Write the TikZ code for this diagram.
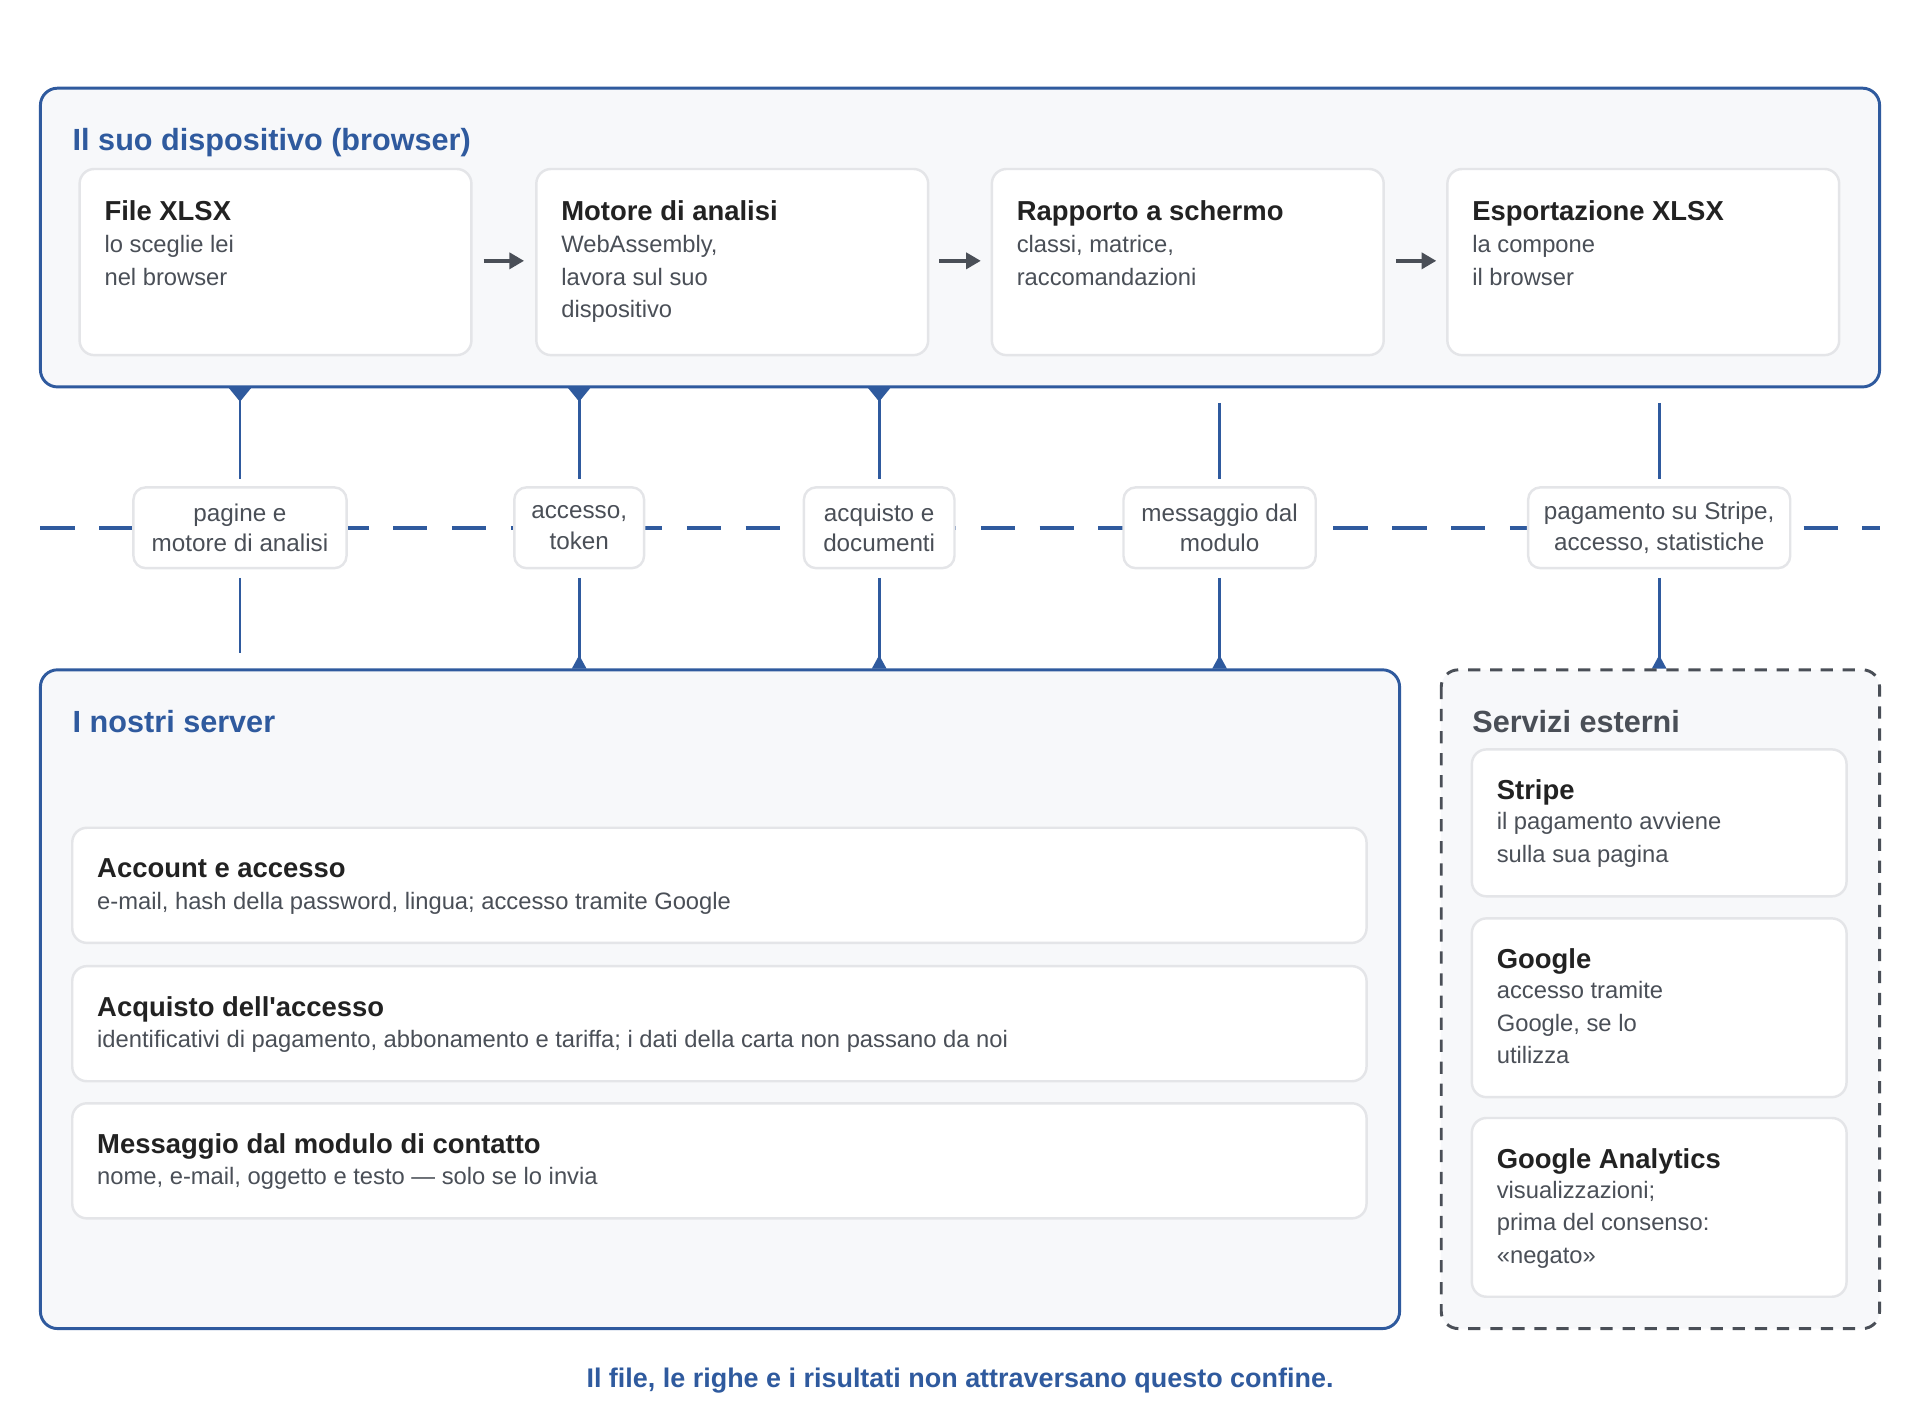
\documentclass[tikz,border=0pt]{standalone}
\usepackage{fontspec}
\usetikzlibrary{arrows.meta}
\setmainfont{Liberation Sans}
\begin{document}
\definecolor{bl}{HTML}{2F5A9E}
\definecolor{txt}{HTML}{222222}
\definecolor{sub}{HTML}{4A4F57}
\definecolor{cardl}{HTML}{E4E5E8}
\definecolor{bg}{HTML}{F7F8FA}
\definecolor{gd}{HTML}{4A4F57}
\begin{tikzpicture}[x=0.5pt,y=-0.5pt,
  outer/.style={draw=bl,line width=1.2pt,fill=bg,rounded corners=7pt},
  card/.style={draw=cardl,line width=1pt,fill=white,rounded corners=6pt},
  ttl/.style={anchor=base west,inner sep=0pt,font=\fontsize{12.5}{14}\selectfont\bfseries,text=bl},
  ct/.style={anchor=base west,inner sep=0pt,font=\fontsize{11.2}{13}\selectfont\bfseries,text=txt},
  cs/.style={anchor=north west,inner sep=0pt,align=left,font=\fontsize{9.7}{13.3}\selectfont,text=sub},
  lab/.style={draw=cardl,line width=1pt,fill=white,rounded corners=5pt,align=center,inner sep=0pt,font=\fontsize{9.9}{12.5}\selectfont,text=sub},
  vl/.style={draw=bl,line width=1.2pt},
  ar/.style={draw=gd,line width=1.5pt,-{Triangle[length=6pt,width=6.5pt]}}]
\useasboundingbox (0,0) rectangle (1568,1158);
% top
\draw[outer] (33,72) rectangle (1535,316);
\node[ttl] (t1) at (59,123) {Il suo dispositivo (browser)};
\foreach \x/\n/\a/\b in {65/c1/File XLSX/{lo sceglie lei\\nel browser},438/c2/Motore di analisi/{WebAssembly,\\lavora sul suo\\dispositivo},810/c3/Rapporto a schermo/{classi, matrice,\\raccomandazioni},1182/c4/Esportazione XLSX/{la compone\\il browser}}{
  \draw[card] (\x,138) rectangle (\x+320,290);
  \coordinate (\n) at (\x,213);
  \node[ct] (\n t) at (\x+20,180) {\a};
  \node[cs] (\n s) at (\x+20,192) {\b};
}
\coordinate (a1) at (395,213);\coordinate (b1) at (428,213);
\coordinate (a2) at (767,213);\coordinate (b2) at (801,213);
\coordinate (a3) at (1140,213);\coordinate (b3) at (1173,213);
\draw[ar] (a1)--(b1); \draw[ar] (a2)--(b2); \draw[ar] (a3)--(b3);
% dashed boundary
\draw[bl,line width=1.6pt,dash pattern=on 14pt off 10pt] (33,431) -- (1535,431);
% labels
\foreach \x/\w/\n/\t in {196/174/l1/{pagine e\\motore di analisi},473/106/l2/{accesso,\\token},718/123/l3/{acquisto e\\documenti},996/157/l4/{messaggio dal\\modulo},1355/214/l5/{pagamento su Stripe,\\accesso, statistiche}}{
  \node[lab,minimum width=\w*0.5pt,minimum height=33pt] (\n) at (\x,431) {\t};
}
% verticals top
\foreach \x in {196,473,718}{
  \draw[vl] (\x,326) -- (\x,391);
  \fill[bl] (\x-9,317) -- (\x+9,317) -- (\x,328) -- cycle;
}
\foreach \x in {996,1355}{ \draw[vl] (\x,329) -- (\x,391); }
% verticals bottom
\draw[vl] (196,472) -- (196,533);
\foreach \x in {473,718,996,1355}{
  \draw[vl] (\x,472) -- (\x,538);
  \fill[bl] (\x-6,546) -- (\x+6,546) -- (\x,535) -- cycle;
}
% bottom server box
\draw[outer] (33,547) rectangle (1143,1085);
\node[ttl] (t2) at (59,598) {I nostri server};
\foreach \y/\n/\a/\b in {676/r1/Account e accesso/{e-mail, hash della password, lingua; accesso tramite Google},789/r2/Acquisto dell\textquotesingle accesso/{identificativi di pagamento, abbonamento e tariffa; i dati della carta non passano da noi},901/r3/Messaggio dal modulo di contatto/{nome, e-mail, oggetto e testo — solo se lo invia}}{
  \draw[card] (59,\y) rectangle (1116,\y+94);
  \node[ct] (\n t) at (79,\y+41) {\a};
  \node[cs] (\n s) at (79,\y+52) {\b};
}
% external
\draw[gd,line width=1.2pt,dash pattern=on 5pt off 4pt,rounded corners=7pt,fill=bg] (1177,547) rectangle (1535,1085);
\node[ttl,text=gd] (t3) at (1202,598) {Servizi esterni};
\foreach \y/\h/\n/\a/\b in {612/120/e1/Stripe/{il pagamento avviene\\sulla sua pagina},750/146/e2/Google/{accesso tramite\\Google, se lo\\utilizza},913/146/e3/Google Analytics/{visualizzazioni;\\prima del consenso:\\«negato»}}{
  \draw[card] (1202,\y) rectangle (1508,\y+\h);
  \node[ct] (\n t) at (1222,\y+41) {\a};
  \node[cs] (\n s) at (1222,\y+51) {\b};
}
\node[anchor=base,inner sep=0pt,font=\fontsize{11}{12}\selectfont\bfseries,text=bl] (foot) at (784,1133) {Il file, le righe e i risultati non attraversano questo confine.};
\end{tikzpicture}
\end{document}
